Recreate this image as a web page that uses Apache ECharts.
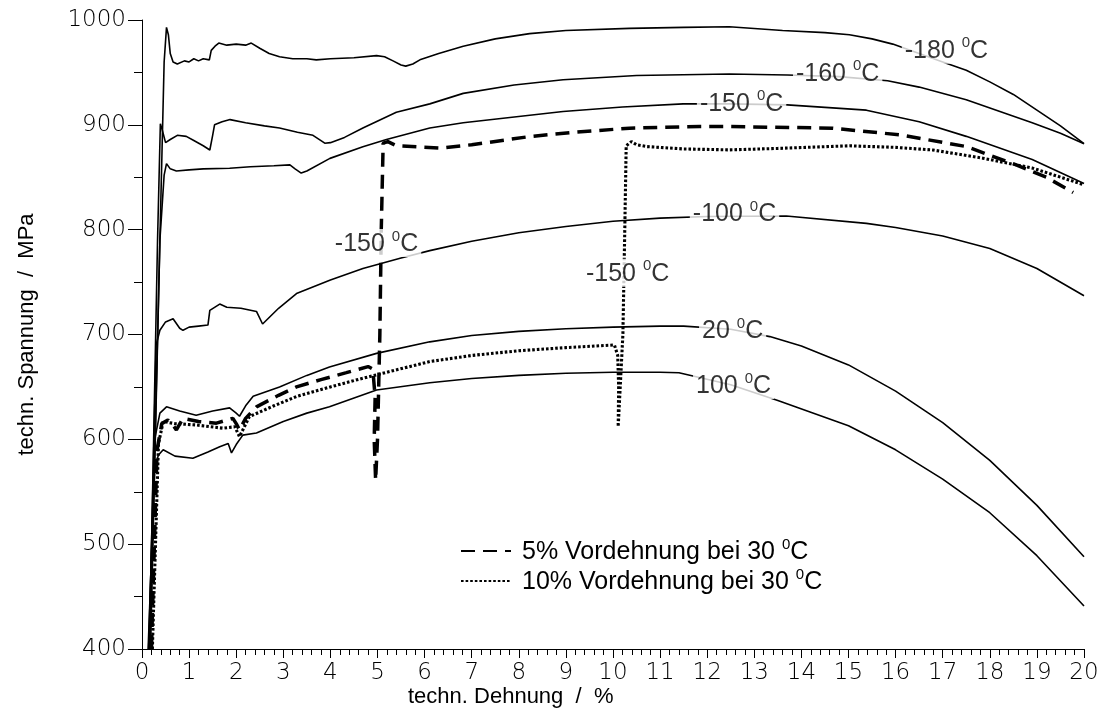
<!DOCTYPE html>
<html>
<head>
<meta charset="utf-8">
<script src="https://cdn.jsdelivr.net/npm/echarts@6/dist/echarts.min.js"></script>
<style>
  html, body { margin: 0; padding: 0; background: #fff; }
  #chart { width: 1106px; height: 717px; }
</style>
</head>
<body>
<div id="chart"></div>
<script>
// Stress-strain curves (strain in %, stress in MPa)
const curveM180 = [[0.17,400],[0.38,790],[0.47,960],[0.52,993],[0.56,986],[0.6,968],[0.66,960],[0.75,958],[0.9,961],[1.0,960],[1.1,963],[1.2,961],[1.3,963],[1.43,962],[1.47,971],[1.55,975],[1.63,978],[1.8,976],[2.0,977],[2.2,976],[2.32,978],[2.5,973],[2.7,968],[2.92,965],[3.2,963],[3.5,963],[3.7,962],[4.0,963],[4.5,964],[4.98,966],[5.15,965],[5.33,961],[5.5,957],[5.6,956],[5.75,958],[5.9,962],[6.3,968],[6.82,975],[7.5,982],[8.23,987],[9,990],[10.35,992],[11.5,993],[12.47,993.5],[13.6,990],[14.5,988],[15.02,986],[15.5,982],[15.94,977],[16.5,968],[17.0,960],[17.5,952],[18,941],[18.5,929],[19,914],[19.5,899],[20,882]];
const curveM160 = [[0.16,400],[0.33,790],[0.39,901],[0.43,895],[0.5,883],[0.6,886],[0.75,890],[0.94,889],[1.1,885],[1.3,880],[1.44,876],[1.5,890],[1.54,900],[1.7,903],[1.87,905],[2.2,902],[2.6,899],[2.92,897],[3.3,893],[3.63,890],[3.8,885],[3.88,882.5],[4.0,883],[4.3,888],[4.69,897],[5.4,912],[6.11,920],[6.82,930],[7.9,938],[8.94,943],[10.5,947],[12.47,948.5],[13.7,947.5],[14.8,946],[15.83,942],[16.5,936],[17.5,924],[18.2,913],[18.9,902],[19.5,892],[20,882]];
const curveM150 = [[0.18,400],[0.38,790],[0.47,852],[0.52,863],[0.6,858],[0.73,856],[1.0,857],[1.3,858],[1.86,858.6],[2.3,860],[2.8,861],[3.14,861.8],[3.25,858],[3.38,854],[3.5,856],[3.99,868],[4.69,879],[5.19,886],[6.11,897],[6.82,902],[8.94,912.7],[10.2,917],[11.49,920],[12.5,920],[13.7,919],[15.38,914],[16.5,903],[17.5,889],[18.9,867],[20,844]];
const curveM100 = [[0.15,400],[0.3,690],[0.38,704],[0.5,712],[0.66,715],[0.8,706],[0.87,704],[1.0,707],[1.2,708],[1.4,709],[1.44,723],[1.65,729],[1.8,726],[2.1,725],[2.43,722],[2.56,710],[2.9,725],[3.28,739],[4.0,752],[4.69,763],[5.5,773],[6.11,780],[7,789],[8,797],[9,803],[10,808],[11,811],[12,812.5],[13.68,813],[15.38,806],[16,802],[17,794],[18,782],[19,763],[20,737]];
const curveP20 = [[0.14,400],[0.27,600],[0.38,625],[0.52,631],[0.8,627],[1.15,623],[1.5,627],[1.86,630],[2.0,625],[2.07,622],[2.2,632],[2.36,641],[2.92,650],[3.5,661],[3.98,669],[4.98,682],[6.11,693],[7,699],[8,703],[9,705.5],[10,707],[11,708],[11.5,708],[12.5,705],[13.33,698],[14,689],[15,671],[16,646],[17,616],[18,580],[19,537],[20,488]];
const curveP100 = [[0.13,400],[0.27,574],[0.35,585],[0.45,590],[0.7,584],[1.08,582],[1.4,588],[1.65,593],[1.83,596],[1.9,587],[2.0,595],[2.14,604],[2.43,606],[3.0,617],[3.5,625],[3.98,631],[4.98,647],[6.11,654],[7,658],[8,661],[9,663],[10,664],[11,664],[11.4,663.5],[12.5,652],[13.5,637],[15,613],[16,590],[17,562],[18,530],[19,489],[20,441]];
const curvePre5 = [[0.2,400],[0.32,590],[0.42,615],[0.55,618.5],[0.65,614],[0.73,609],[0.87,620],[1.2,617],[1.58,615.4],[1.93,620],[2.0,615],[2.07,609],[2.2,620],[2.43,631],[2.9,642],[3.28,650],[3.8,657],[4.34,663.6],[4.8,669.4],[4.9,667],[4.95,640],[4.93,600],[4.96,561],[5.0,600],[5.05,700],[5.08,800],[5.12,882.5],[5.22,884],[5.4,880],[6.32,877.8],[7,881],[8.23,888.8],[9.2,893],[10.35,896.8],[11.84,898.4],[12.47,898.4],[14.66,896.8],[16.08,890.5],[17.5,879.3],[18.56,861.8],[19.2,850],[19.77,835.4]];
const curvePre10 = [[0.22,400],[0.35,596],[0.45,617],[0.7,615],[1.15,613.7],[1.72,610.6],[1.97,612],[2.07,602.6],[2.28,621.7],[2.8,632],[3.28,640.8],[4.0,650],[4.69,658.3],[5.2,664],[6.11,674.2],[7,680],[8,684.5],[9,687.5],[10.03,690],[10.1,680],[10.12,650],[10.11,612],[10.15,612],[10.21,700],[10.25,800],[10.28,880],[10.39,884],[10.5,881],[10.71,879.3],[11.5,877],[12.47,876.1],[13.5,877.5],[15.02,880],[16.0,878.5],[16.79,876],[17.85,868.2],[18.91,858.7],[20,842.8]];

// Curve annotations: [temperature text, strain, stress]
const annotations = [
  ['-180', 17.08, 971.6],
  ['-160', 14.77, 949.6],
  ['-150', 12.73, 921.0],
  ['-100', 12.58, 816.0],
  ['20', 12.54, 704.4],
  ['100', 12.56, 651.9],
  ['-150', 4.98, 787.4],
  ['-150', 10.31, 758.8]
];

const legendNames = ['5% Vordehnung bei 30 °C', '10% Vordehnung bei 30 °C'];
const xTitle = 'techn. Dehnung  /  %';
const yTitle = 'techn. Spannung  /  MPa';

const TEXT_FONT = '"Liberation Sans", Arial, sans-serif';
const TICK_FONT = '"DejaVu Sans", sans-serif';

const richDeg = {
  t: { fontSize: 25, lineHeight: 28, verticalAlign: 'bottom', fontFamily: TEXT_FONT, color: '#000' },
  s: { fontSize: 15, lineHeight: 15, verticalAlign: 'top', fontFamily: TEXT_FONT, color: '#000' }
};
// "30 °C" style: superscript zero followed by C
function degText(str) {
  const idx = str.lastIndexOf('°C');
  const head = str.slice(0, idx);
  return '{t|' + head + '}{s|0}{t|C}';
}

function solid(data) {
  return {
    type: 'line', data: data, showSymbol: false, symbol: 'none', silent: true,
    lineStyle: { color: '#000', width: 1.6 }, z: 2
  };
}

const chart = echarts.init(document.getElementById('chart'), null, { renderer: 'canvas' });

chart.setOption({
  animation: false,
  backgroundColor: '#fff',
  grid: { left: 142, right: 22, top: 20, bottom: 68, containLabel: false },
  xAxis: {
    type: 'value', min: 0, max: 20, interval: 1,
    axisLine: { show: true, onZero: false, lineStyle: { color: '#000', width: 1 } },
    axisTick: { show: true, inside: false, length: 9, lineStyle: { color: '#000' } },
    minorTick: { show: true, splitNumber: 5, length: 6, lineStyle: { color: '#000' } },
    splitLine: { show: false },
    axisLabel: { margin: 13, fontFamily: TICK_FONT, fontWeight: 300, fontSize: 23, color: '#000',
      formatter: v => String(v) }
  },
  yAxis: {
    type: 'value', min: 400, max: 1000, interval: 100,
    name: yTitle, nameLocation: 'middle', nameGap: 104,
    nameTextStyle: { fontFamily: TEXT_FONT, fontSize: 22, color: '#000' },
    axisLine: { show: true, lineStyle: { color: '#000', width: 1 } },
    axisTick: { show: true, inside: false, length: 14, lineStyle: { color: '#000' } },
    minorTick: { show: true, splitNumber: 2, length: 8, lineStyle: { color: '#000' } },
    splitLine: { show: false },
    axisLabel: { margin: 16, fontFamily: TICK_FONT, fontWeight: 300, fontSize: 23, color: '#000',
      formatter: v => String(v) }
  },
  legend: {
    data: legendNames,
    orient: 'vertical', left: 455, top: 532,
    itemWidth: 50, itemHeight: 14, itemGap: 2,
    itemStyle: { color: 'rgba(0,0,0,0)', borderColor: 'rgba(0,0,0,0)', borderWidth: 0 },
    formatter: function (name) { return degText(name); },
    textStyle: { rich: richDeg, padding: [0, 0, 0, 6] },
    selectedMode: false
  },
  graphic: [{
    type: 'text', left: 408, top: 686,
    style: { text: xTitle, font: '22px ' + TEXT_FONT, fill: '#000' }
  }],
  series: [
    solid(curveM180), solid(curveM160), solid(curveM150),
    solid(curveM100), solid(curveP20), solid(curveP100),
    {
      name: legendNames[0], type: 'line', data: curvePre5, showSymbol: false, symbol: 'none', silent: true,
      itemStyle: { color: '#000' },
      lineStyle: { color: '#000', width: 3.5, type: [14, 8] }, z: 3
    },
    {
      name: legendNames[1], type: 'line', data: curvePre10, showSymbol: false, symbol: 'none', silent: true,
      itemStyle: { color: '#000' },
      lineStyle: { color: '#000', width: 3.1, type: [2.6, 2.0] }, z: 3
    },
    {
      type: 'scatter', symbolSize: 0, silent: true, z: 10,
      data: annotations.map(a => ({ value: [a[1], a[2]], name: a[0] })),
      label: {
        show: true, position: 'inside',
        formatter: p => '{t|' + p.name + ' }{s|0}{t|C}',
        rich: richDeg,
        backgroundColor: '#fff', padding: [0, 3, 0, 3]
      }
    }
  ]
});
</script>
</body>
</html>
